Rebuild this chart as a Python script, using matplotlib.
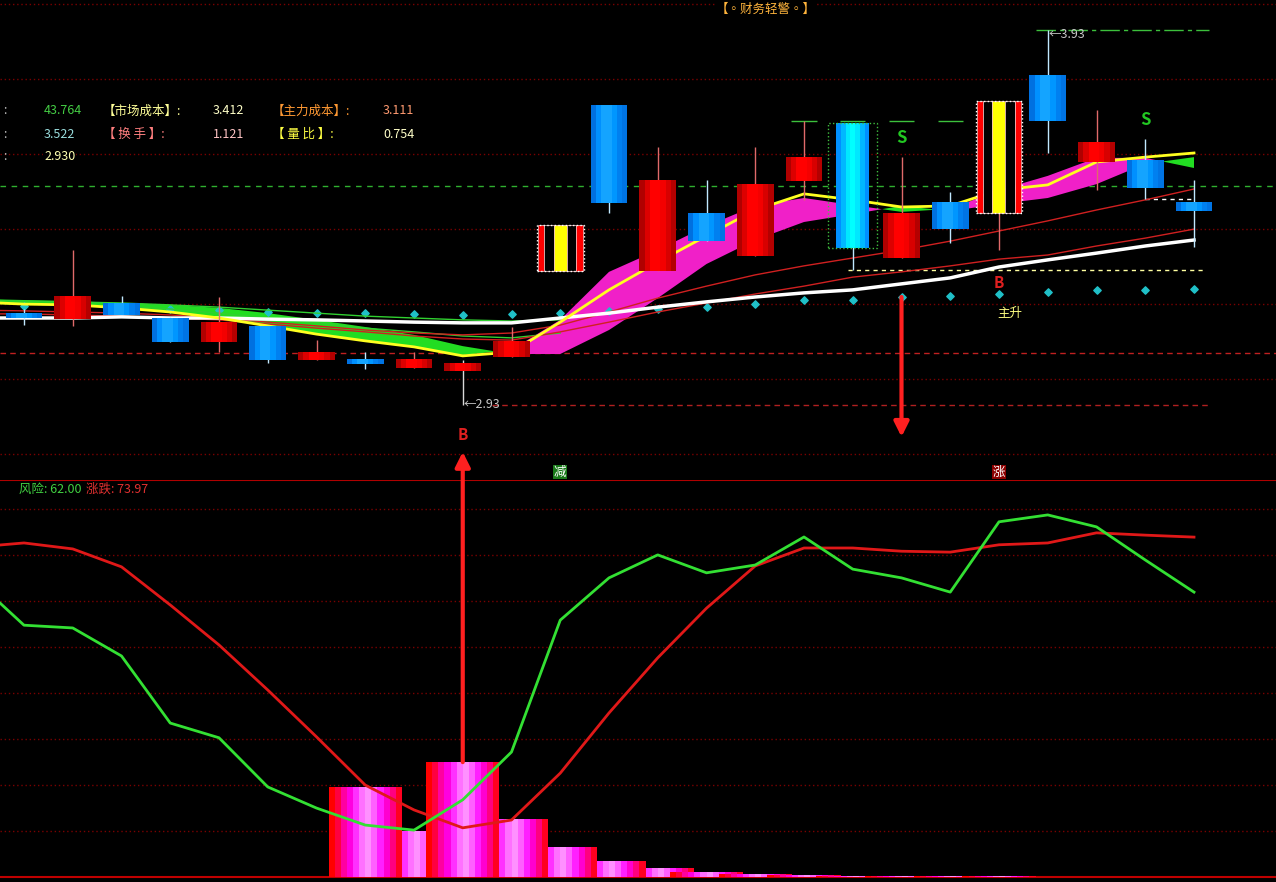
import numpy as np
import matplotlib.pyplot as plt
from matplotlib.patches import Rectangle

plt.rcParams['font.family'] = ['Noto Sans CJK SC', 'DejaVu Sans']

# -----------------------------
# DATA
# -----------------------------
opens  = [3.175, 3.159, 3.202, 3.162, 3.098, 3.141, 3.050, 3.053, 3.029, 3.021,
          3.058, 3.287, 3.730, 3.287, 3.442, 3.327, 3.527, 3.682, 3.322, 3.471,
          3.442, 3.810, 3.578, 3.583, 3.471]
highs  = [3.186, 3.343, 3.221, 3.165, 3.218, 3.141, 3.103, 3.071, 3.071, 3.050,
          3.138, 3.410, 3.730, 3.618, 3.530, 3.618, 3.687, 3.682, 3.591, 3.498,
          3.741, 3.930, 3.717, 3.639, 3.530]
lows   = [3.143, 3.141, 3.170, 3.098, 3.071, 3.042, 3.050, 3.026, 3.029, 2.930,
          3.058, 3.287, 3.442, 3.287, 3.367, 3.327, 3.477, 3.290, 3.322, 3.362,
          3.343, 3.602, 3.503, 3.479, 3.351]
closes = [3.162, 3.221, 3.170, 3.098, 3.151, 3.050, 3.071, 3.039, 3.053, 3.042,
          3.101, 3.410, 3.469, 3.530, 3.367, 3.519, 3.591, 3.349, 3.442, 3.399,
          3.741, 3.687, 3.631, 3.509, 3.447]

line_x = np.arange(-1, 25)
fast   = np.array([3.205, 3.199, 3.197, 3.189, 3.178, 3.162, 3.141, 3.119, 3.101, 3.085,
                   3.063, 3.077, 3.157, 3.285, 3.343, 3.407, 3.461, 3.482, 3.463, 3.445,
                   3.453, 3.503, 3.541, 3.589, 3.589, 3.562])
slow   = np.array([3.213, 3.210, 3.207, 3.202, 3.197, 3.189, 3.175, 3.157, 3.138, 3.117,
                   3.087, 3.066, 3.066, 3.130, 3.215, 3.306, 3.370, 3.418, 3.439, 3.461,
                   3.447, 3.466, 3.482, 3.519, 3.573, 3.591])
yellow = [3.205, 3.199, 3.197, 3.189, 3.178, 3.162, 3.141, 3.119, 3.101, 3.085,
          3.061, 3.071, 3.151, 3.237, 3.311, 3.381, 3.450, 3.493, 3.477, 3.458,
          3.461, 3.503, 3.517, 3.578, 3.591, 3.602]
white  = [3.162, 3.162, 3.162, 3.165, 3.162, 3.162, 3.159, 3.157, 3.154, 3.151,
          3.149, 3.149, 3.162, 3.175, 3.191, 3.205, 3.218, 3.229, 3.237, 3.253,
          3.269, 3.298, 3.317, 3.335, 3.354, 3.370]
red_a  = [3.183, 3.181, 3.178, 3.175, 3.170, 3.162, 3.151, 3.141, 3.130, 3.122,
          3.117, 3.122, 3.143, 3.178, 3.215, 3.247, 3.277, 3.301, 3.322, 3.343,
          3.367, 3.394, 3.421, 3.450, 3.477, 3.506]
red_b  = [3.173, 3.173, 3.170, 3.167, 3.162, 3.157, 3.146, 3.135, 3.125, 3.114,
          3.106, 3.103, 3.125, 3.151, 3.178, 3.202, 3.226, 3.247, 3.271, 3.285,
          3.301, 3.319, 3.330, 3.354, 3.375, 3.399]
green_x = np.arange(-1, 12)
green_a = [3.210, 3.207, 3.205, 3.202, 3.197, 3.191, 3.183, 3.175, 3.167, 3.162, 3.157, 3.154, 3.157]
green_b = [3.202, 3.199, 3.197, 3.194, 3.186, 3.175, 3.162, 3.149, 3.135, 3.125, 3.114, 3.109, 3.122]
dots = [3.194, 3.191, 3.189, 3.186, 3.183, 3.178, 3.175, 3.175, 3.173, 3.170,
        3.173, 3.175, 3.181, 3.186, 3.191, 3.199, 3.210, 3.210, 3.218, 3.221,
        3.226, 3.231, 3.237, 3.237, 3.239]

price_grid = [2.8, 3.0, 3.2, 3.4, 3.6, 3.8, 4.0]
level_green = 3.515
level_red = 3.069
hi_mark, lo_mark = 3.93, 2.93
support = 3.290
mark_level = 3.687

info_rows = [
    [("43.764", '#44cc44'), ("【市场成本】:", '#ffff99'), ("3.412", '#ffffc8'),
     ("【主力成本】:", '#ff9933'), ("3.111", '#ff9a70')],
    [("3.522", '#99dddd'), ("【 换 手 】:", '#ff7f7f'), ("1.121", '#ffc4c4'),
     ("【 量 比 】:", '#ffff44'), ("0.754", '#ffffc8')],
    [("2.930", '#ffffb0')],
]

risk  = [64.6, 54.8, 54.2, 48.1, 33.5, 30.3, 19.6, 15.0, 11.3, 10.2, 16.8, 27.2, 55.9,
         65.1, 70.1, 66.2, 67.9, 74.0, 67.0, 65.1, 62.0, 77.3, 78.8, 76.2, 69.0, 62.0]
trend = [71.8, 72.7, 71.4, 67.5, 59.2, 50.5, 40.7, 30.5, 20.0, 14.6, 10.7, 12.4, 22.6,
         35.7, 47.7, 58.5, 67.7, 71.6, 71.6, 70.9, 70.7, 72.3, 72.7, 74.9, 74.4, 73.97]
hist_x = np.arange(7, 21)
hist   = [19.6, 10.0, 25.0, 12.6, 6.5, 3.5, 2.0, 1.1, 0.65, 0.4, 0.3, 0.25, 0.2, 0.15]

striped = [11, 20]
boxed_cyan = 17

# -----------------------------
# STYLE
# -----------------------------
RED = ['#b00000', '#dc0000', '#ff0000', '#ff0000', '#f40000', '#d80000', '#b40000']
BLUE = ['#0070e0', '#0090ff', '#14a4ff', '#14a4ff', '#0096ff', '#0080f0', '#0074e4']
CYAN = ['#0090ff', '#00b8ff', '#00e8ff', '#00ffff', '#00e8ff', '#00b8ff', '#0090ff']
STRIPE = ['#ff0000', '#000000', '#ffff00', '#000000', '#ff0000']
STRIPE_W = [0.14, 0.21, 0.29, 0.21, 0.15]
PINK = ['#ff0000', '#ff0040', '#ff00a0', '#ff00e0', '#ff30ff', '#ff70ff', '#ff90ff',
        '#ff60ff', '#ff20ff', '#ff00d0', '#ff0080', '#ff0020']
DOT = (0, (1, 2))


def stripes(ax, xc, y0, y1, width, colors, fracs=None, z=3, ec='none'):
    n = len(colors)
    fracs = fracs if fracs is not None else [1.0 / n] * n
    left = xc - width / 2
    for c, f in zip(colors, fracs):
        ax.add_patch(Rectangle((left, y0), width * f, y1 - y0, facecolor=c,
                               edgecolor=ec, lw=0.5, zorder=z))
        left += width * f


fig = plt.figure(figsize=(12.76, 8.82), dpi=100, facecolor='black')
ax = fig.add_axes([0, 402 / 882, 1, 480 / 882])
axb = fig.add_axes([0, 0, 1, 402 / 882])
xlim = (-24 / 48.75, 1252 / 48.75)
for a in (ax, axb):
    a.set_facecolor('black')
    a.set_xlim(*xlim)
    a.set_xticks([])
    a.set_yticks([])
    for s in a.spines.values():
        s.set_visible(False)
ax.set_ylim(2.73, 4.01)
axb.set_ylim(-1.09, 86.4)

# -----------------------------
# TOP PANEL
# -----------------------------
for g in price_grid:
    ax.axhline(g, color='#7a0000', ls=DOT, lw=1, zorder=0)
ax.axhline(level_green, color='#2fb02f', ls=(0, (4, 4)), lw=1, zorder=0)
ax.axhline(level_red, color='#c02020', ls=(0, (4, 3)), lw=1, zorder=0)
ax.hlines(lo_mark, 9.6, 24.3, color='#b02020', ls=(0, (4, 3)), lw=1, zorder=0)
ax.hlines(support, 16.9, 24.25, color='#ffffa0', ls=(0, (3, 3)), lw=1, zorder=1)
ax.hlines(lows[23], 23, 24, color='#ffffff', ls=(0, (3, 3)), lw=1, zorder=1)
ax.hlines(hi_mark, 20.75, 24.3, color='#3cc03c', ls=(0, (14, 3, 3, 3)), lw=1, zorder=1)
for i in range(16, 20):
    ax.hlines(mark_level, i - 0.26, i + 0.26, color='#3cc03c', lw=1, zorder=1)

ax.fill_between(line_x, fast, slow, where=fast >= slow, interpolate=True,
                color='#f020c8', lw=0, zorder=1)
ax.fill_between(line_x, fast, slow, where=fast <= slow, interpolate=True,
                color='#22dd22', lw=0, zorder=1)
ax.plot(green_x, green_a, color='#30d030', lw=1, zorder=2)
ax.plot(green_x, green_b, color='#30d030', lw=1, zorder=2)
ax.plot(line_x, red_a, color='#d02020', lw=1, zorder=2)
ax.plot(line_x, red_b, color='#d02020', lw=1, zorder=2)
ax.plot(line_x, white, color='white', lw=2.5, zorder=2)
ax.plot(line_x, yellow, color='#ffff20', lw=2, zorder=2)
ax.scatter(range(len(dots)), dots, marker='D', s=14, color='#20c0c8', zorder=1.5)

for i, (o, h, l, c) in enumerate(zip(opens, highs, lows, closes)):
    up = c >= o
    wick = '#e06a6a' if up else '#c0e8ff'
    if i == 9:
        wick = '#d8d8d8'
    ax.vlines(i, l, h, color=wick, lw=1, zorder=2.5)
    lo_b, hi_b = min(o, c), max(o, c)
    if i in striped:
        stripes(ax, i, lo_b, hi_b, 0.92, STRIPE, STRIPE_W, z=3, ec='#ffc8c8')
        ax.add_patch(Rectangle((i - 0.48, lo_b), 0.96, hi_b - lo_b, fill=False,
                               ec='white', ls=':', lw=1, zorder=3.5))
    elif i == boxed_cyan:
        stripes(ax, i, lo_b, hi_b, 0.68, CYAN, z=3)
        ax.add_patch(Rectangle((i - 0.5, lo_b), 1.0, hi_b - lo_b, fill=False,
                               ec='#40c040', ls=':', lw=1, zorder=3.5))
    else:
        stripes(ax, i, lo_b, max(hi_b, lo_b + 0.012), 0.75, RED if up else BLUE, z=3)

# labels
ax.text(9 + 0.02, lo_mark, '←2.93', color='#c8c8c8', fontsize=9, va='center', ha='left', zorder=5)
ax.text(21 + 0.02, hi_mark - 0.012, '←3.93', color='#c8c8c8', fontsize=9, va='center', ha='left', zorder=5)
ax.text(18, 3.642, 'S', color='#22c822', fontsize=12, fontweight='bold', ha='center', va='center')
ax.text(23, 3.690, 'S', color='#22c822', fontsize=12, fontweight='bold', ha='center', va='center')
ax.text(20, 3.255, 'B', color='#e02020', fontsize=11, fontweight='bold', ha='center', va='center')
ax.text(9, 2.850, 'B', color='#e02020', fontsize=11, fontweight='bold', ha='center', va='center')
ax.text(20.23, 3.175, '主升', color='#ffff80', fontsize=9, ha='center', va='center')
ax.text(11, 2.751, '减', color='white', fontsize=9, ha='center', va='center',
        bbox=dict(facecolor='#1a7a1a', edgecolor='none', pad=0.5))
ax.text(20, 2.751, '涨', color='white', fontsize=9, ha='center', va='center',
        bbox=dict(facecolor='#8b0000', edgecolor='none', pad=0.5))

ax.text(766 / 1276, 1 - 9 / 480, '【◦财务轻警◦】', color='#ffb43c', fontsize=9,
        transform=ax.transAxes, ha='center', va='center',
        bbox=dict(facecolor='black', edgecolor='none', pad=1))
col_x = [44, 103, 213, 272, 383]
for r, row in enumerate(info_rows):
    yy = 1 - (111 + 23 * r) / 480
    ax.text(3 / 1276, yy, ':', color='#c0c0c0', fontsize=9, transform=ax.transAxes, va='center')
    for (s, c), px in zip(row, col_x):
        ax.text(px / 1276, yy, s, color=c, fontsize=9, transform=ax.transAxes, va='center',
                bbox=dict(facecolor='black', edgecolor='none', pad=0.5))

# -----------------------------
# BOTTOM PANEL
# -----------------------------
for g in range(10, 90, 10):
    axb.axhline(g, color='#7a0000', ls=DOT, lw=1, zorder=0)
axb.axhline(0, color='#c00000', lw=1.5, zorder=0)
axb.axhline(86.4, color='#b00000', lw=1.5, zorder=0)

for k in np.argsort(hist):
    stripes(axb, hist_x[k], 0, hist[k], 1.5, PINK, z=1 + 0.01 * k + hist[k] * 0.01)

axb.plot(line_x, trend, color='#e01818', lw=2, zorder=3)
axb.plot(line_x, risk, color='#33e033', lw=2, zorder=3)

axb.text(19 / 1276, 1 - 9 / 402, f'风险: {risk[-1]:.2f}', color='#40d040', fontsize=9,
         transform=axb.transAxes, va='center')
axb.text(86 / 1276, 1 - 9 / 402, f'涨跌: {trend[-1]:.2f}', color='#e03030', fontsize=9,
         transform=axb.transAxes, va='center')

# arrows crossing the panels (drawn by the lower axes so they sit on top)
arrow = dict(arrowstyle='-|>', color='#ff2020', lw=3, mutation_scale=22, shrinkA=0, shrinkB=0)
axb.annotate('', xy=(9, 2.805), xycoords=ax.transData, xytext=(9, hist[2]),
             textcoords=axb.transData, arrowprops=arrow, annotation_clip=False, zorder=6)
ax.annotate('', xy=(18, 2.845), xytext=(18, dots[18]), arrowprops=arrow, zorder=6)

fig.savefig('out.png', dpi=100, facecolor='black')
